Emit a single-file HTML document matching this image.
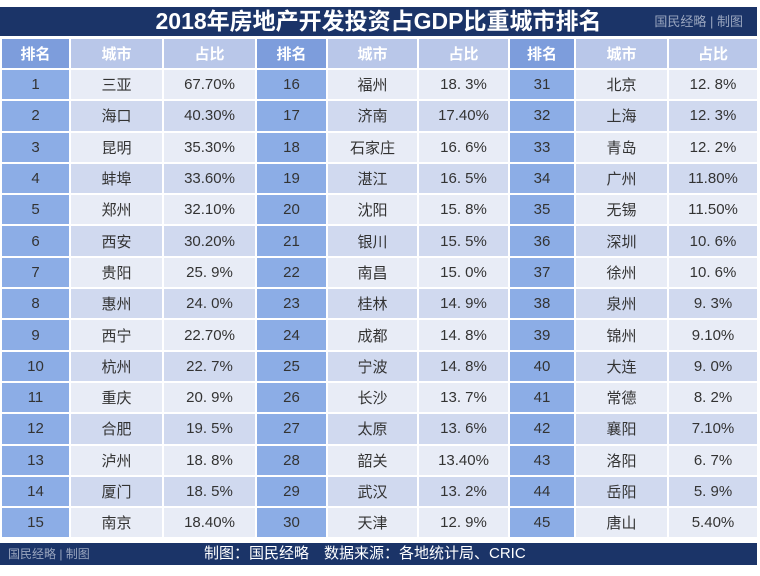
<!DOCTYPE html>
<html><head><meta charset="utf-8">
<style>
body{margin:0;width:760px;height:576px;background:#fff;overflow:hidden;font-family:"Liberation Sans","Noto Sans CJK SC",sans-serif;position:relative}
#title{position:absolute;left:0;top:7px;width:757px;height:29px;background:#1b3468;color:#fff;font-size:23px;font-weight:bold;text-align:center;line-height:29px}
#title .wm{position:absolute;right:14px;top:0;font-size:13px;font-weight:normal;color:#9aa6bf}
table{position:absolute;left:0;top:37px;width:757px;border-collapse:separate;border-spacing:2px;table-layout:fixed}
td{height:29.3px;padding:0;text-align:center;font-size:15px;color:#333}
th{height:29px;padding:0;font-size:15px;font-weight:bold;color:#fff;background:#b9c7e9}
th.r{background:#7d9ddc}
tr.o td{background:#e8ecf6}
tr.e td{background:#d0d9ef}
tr td.r{background:#8cade6}
#foot{position:absolute;left:0;top:543px;width:757px;height:22px;background:#1b3468;color:#fff;font-size:15px;line-height:22px}
#foot .l{position:absolute;left:8px;font-size:12px;color:#9aa6bf}
#foot .c{position:absolute;left:204px}
</style></head><body>
<div id="title">2018年房地产开发投资占GDP比重城市排名<span class="wm">国民经略 | 制图</span></div>
<table>
<colgroup><col style="width:67px"><col style="width:91px"><col style="width:91px"><col style="width:69px"><col style="width:89px"><col style="width:89px"><col style="width:64px"><col style="width:91px"><col style="width:88px"></colgroup>
<thead><tr><th class="r">排名</th><th>城市</th><th>占比</th><th class="r">排名</th><th>城市</th><th>占比</th><th class="r">排名</th><th>城市</th><th>占比</th></tr></thead>
<tbody id="tb"></tbody></table>
<div id="foot"><span class="l">国民经略 | 制图</span><span class="c">制图：国民经略　数据来源：各地统计局、CRIC</span></div>
<script>
const cities=["三亚","海口","昆明","蚌埠","郑州","西安","贵阳","惠州","西宁","杭州","重庆","合肥","泸州","厦门","南京","福州","济南","石家庄","湛江","沈阳","银川","南昌","桂林","成都","宁波","长沙","太原","韶关","武汉","天津","北京","上海","青岛","广州","无锡","深圳","徐州","泉州","锦州","大连","常德","襄阳","洛阳","岳阳","唐山"];
const shares=["67.70%","40.30%","35.30%","33.60%","32.10%","30.20%","25. 9%","24. 0%","22.70%","22. 7%","20. 9%","19. 5%","18. 8%","18. 5%","18.40%","18. 3%","17.40%","16. 6%","16. 5%","15. 8%","15. 5%","15. 0%","14. 9%","14. 8%","14. 8%","13. 7%","13. 6%","13.40%","13. 2%","12. 9%","12. 8%","12. 3%","12. 2%","11.80%","11.50%","10. 6%","10. 6%","9. 3%","9.10%","9. 0%","8. 2%","7.10%","6. 7%","5. 9%","5.40%"];
const tb=document.getElementById('tb');
for(let i=0;i<15;i++){
  const tr=document.createElement('tr');
  tr.className=i%2?'e':'o';
  
  
  for(let g=0;g<3;g++){
    const k=g*15+i;
    const a=document.createElement('td');a.className='r';a.textContent=k+1;
    
    
    const b=document.createElement('td');b.textContent=cities[k];
    
    
    const c=document.createElement('td');c.textContent=shares[k];
    
    
    tr.append(a,b,c);
  }
  tb.appendChild(tr);
}
</script>
</body></html>
